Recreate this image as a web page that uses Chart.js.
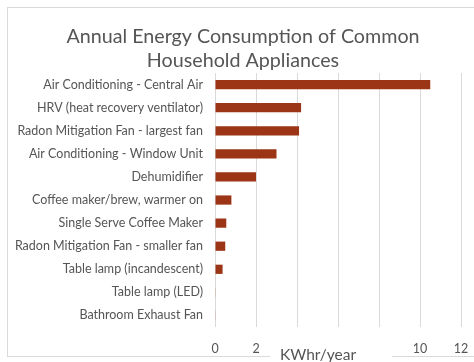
<!DOCTYPE html>
<html>
<head>
<meta charset="utf-8">
<script src="https://cdn.jsdelivr.net/npm/chart.js@4"></script>
<style>
  html, body { margin: 0; padding: 0; background: #ffffff; }
  #wrap { width: 474px; height: 362px; position: relative; }
</style>
</head>
<body>
<div id="wrap"><canvas id="c" width="474" height="362"></canvas></div>
<script>
const categories = [
  'Air Conditioning - Central Air',
  'HRV (heat recovery ventilator)',
  'Radon Mitigation Fan - largest fan',
  'Air Conditioning - Window Unit',
  'Dehumidifier',
  'Coffee maker/brew, warmer on',
  'Single Serve Coffee Maker',
  'Radon Mitigation Fan - smaller fan',
  'Table lamp (incandescent)',
  'Table lamp (LED)',
  'Bathroom Exhaust Fan'
];
const kwhValues = [10.5, 4.2, 4.1, 3.0, 2.0, 0.8, 0.55, 0.5, 0.37, 0.03, 0.02];
const xTicks = [0, 2, 4, 6, 8, 10, 12];
const chartTitle = ['Annual Energy Consumption of Common', 'Household Appliances'];
const xAxisTitle = 'KWhr/year';

const FONT = 'Lato, "Open Sans", sans-serif';
const TEXT = '#555555';
const GRID = '#d9d9d9';

const framePlugin = {
  id: 'frame',
  beforeDraw(chart) {
    const ctx = chart.ctx;
    ctx.save();
    ctx.fillStyle = '#ffffff';
    ctx.fillRect(0, 0, chart.width, chart.height);
    ctx.strokeStyle = GRID;
    ctx.lineWidth = 1;
    ctx.strokeRect(7.5, 7.5, chart.width + 10, 349);
    ctx.restore();
  },
  afterDraw(chart) {
    const ctx = chart.ctx;
    ctx.save();
    ctx.fillStyle = '#ffffff';
    ctx.fillRect(270, 338, 122, 24);
    ctx.fillStyle = TEXT;
    ctx.font = '15.5px ' + FONT;
    ctx.textAlign = 'center';
    ctx.textBaseline = 'middle';
    ctx.fillText(xAxisTitle, 318, 355);
    ctx.restore();
  }
};

new Chart(document.getElementById('c'), {
  type: 'bar',
  data: {
    labels: categories,
    datasets: [{
      data: kwhValues,
      backgroundColor: '#9b3516',
      borderWidth: 0,
      barPercentage: 0.4,
      categoryPercentage: 1.0
    }]
  },
  options: {
    indexAxis: 'y',
    responsive: false,
    animation: false,
    devicePixelRatio: 1,
    layout: { padding: { left: 12, right: 0, top: 0, bottom: 0 } },
    plugins: {
      legend: { display: false },
      tooltip: { enabled: false },
      title: {
        display: true,
        text: chartTitle,
        color: TEXT,
        font: { family: FONT, size: 19.7, weight: 'normal', lineHeight: 1.22 },
        padding: { top: 25, bottom: 0 }
      }
    },
    scales: {
      x: {
        min: 0,
        max: 12,
        afterBuildTicks(scale) { scale.ticks = xTicks.map(v => ({ value: v })); },
        afterFit(scale) { scale.height = 35; scale.paddingLeft = 0; scale.paddingRight = 13; },
        grid: { color: GRID, lineWidth: 1, drawTicks: false },
        border: { display: false },
        ticks: { color: TEXT, font: { family: FONT, size: 12.5 }, padding: 14 },
        title: { display: false }
      },
      y: {
        afterFit(scale) { scale.width = 203; },
        grid: { display: false, drawTicks: false },
        border: { display: false },
        ticks: { color: TEXT, font: { family: FONT, size: 12.5 }, padding: 12, autoSkip: false }
      }
    }
  },
  plugins: [framePlugin]
});
</script>
</body>
</html>
